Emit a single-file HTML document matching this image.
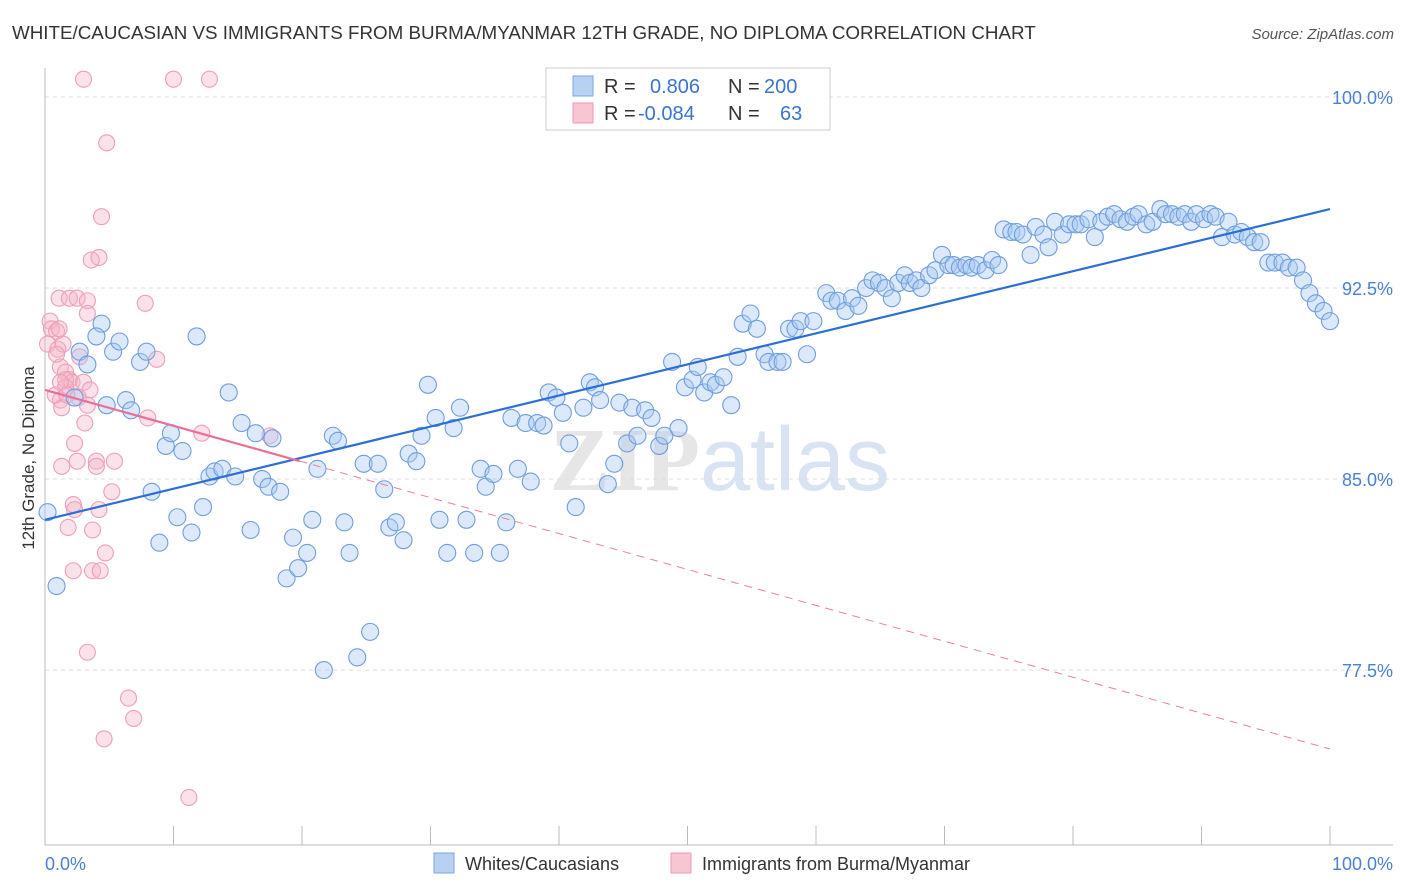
<!DOCTYPE html>
<html><head><meta charset="utf-8"><style>
body{margin:0;background:#fff;font-family:"Liberation Sans",sans-serif;}
svg{display:block}
</style></head><body>
<svg id="chart" width="1406" height="892" viewBox="0 0 1406 892" xmlns="http://www.w3.org/2000/svg">
<text x="12" y="39" font-size="18.8" fill="#333">WHITE/CAUCASIAN VS IMMIGRANTS FROM BURMA/MYANMAR 12TH GRADE, NO DIPLOMA CORRELATION CHART</text>
<text x="1394" y="39" font-size="15" fill="#555" text-anchor="end" font-style="italic">Source: ZipAtlas.com</text>
<text x="720" y="490" font-size="90" fill="#e6e6e6" text-anchor="middle" font-family="Liberation Serif,serif" font-weight="bold">ZIP<tspan fill="#d8e4f3" font-family="Liberation Sans,sans-serif" font-weight="normal">atlas</tspan></text>
<g id="grid"></g><g id="axes"></g><g id="pink"></g><g id="blue"></g><g id="lines"></g>
<text transform="translate(34,458) rotate(-90)" font-size="17" fill="#333" text-anchor="middle">12th Grade, No Diploma</text>
<text x="45" y="870" font-size="18" fill="#4a7fd4">0.0%</text>
<text x="1393" y="870" font-size="18" fill="#4a7fd4" text-anchor="end">100.0%</text>
<g>
<rect x="546" y="68" width="284" height="62" fill="#fff" stroke="#ccc"/>
<rect x="573" y="76" width="20" height="20" fill="#b8d1f3" stroke="#7aa4e0"/>
<rect x="573" y="103" width="20" height="20" fill="#f8c5d3" stroke="#eb9ab2"/>
<text x="604" y="93" font-size="20" fill="#333">R =</text><text x="650" y="93" font-size="20" fill="#3a74d0">0.806</text>
<text x="728" y="93" font-size="20" fill="#333">N =</text><text x="764" y="93" font-size="20" fill="#3a74d0">200</text>
<text x="604" y="120" font-size="20" fill="#333">R =</text><text x="638" y="120" font-size="20" fill="#3a74d0">-0.084</text>
<text x="728" y="120" font-size="20" fill="#333">N =</text><text x="780" y="120" font-size="20" fill="#3a74d0">63</text>
</g>
<g>
<rect x="434" y="853" width="20" height="20" fill="#b8d1f3" stroke="#7aa4e0"/>
<text x="465" y="870" font-size="18" fill="#333">Whites/Caucasians</text>
<rect x="671" y="853" width="20" height="20" fill="#f8c5d3" stroke="#eb9ab2"/>
<text x="702" y="870" font-size="18" fill="#333">Immigrants from Burma/Myanmar</text>
</g>
</svg>
<script>
const yTicks=[100,92.5,85,77.5];
const yTickLabels=["100.0%","92.5%","85.0%","77.5%"];
const xTicks=[0,10,20,30,40,50,60,70,80,90,100];
const blueX=[0.2,0.9,2.3,2.7,3.3,4.4,4.0,4.8,5.3,5.8,6.3,6.7,7.4,7.9,8.3,8.9,9.4,9.8,10.3,10.7,11.4,11.8,12.3,12.8,13.2,13.8,14.3,14.8,15.3,16.0,16.4,16.9,17.4,17.7,18.3,18.8,19.3,19.7,20.4,20.8,21.2,21.7,22.4,22.8,23.3,23.7,24.8,25.3,25.9,24.3,26.4,26.8,27.3,27.9,28.3,28.9,29.3,29.8,30.4,30.7,31.3,31.8,32.3,32.8,33.4,33.9,34.3,34.9,35.4,35.9,36.3,36.8,37.4,37.8,38.3,38.8,39.2,39.8,40.3,40.8,41.3,41.9,42.4,42.8,43.2,43.8,44.3,44.7,45.3,45.7,46.1,46.7,47.2,47.8,48.2,48.8,49.3,49.8,50.4,50.8,51.3,51.8,52.2,52.8,53.4,53.9,54.3,54.9,55.4,56.0,56.3,57.0,57.4,57.9,58.4,58.8,59.3,59.8,60.8,61.2,61.7,62.3,62.8,63.3,63.9,64.4,64.9,65.4,65.9,66.4,66.9,67.3,67.8,68.2,68.8,69.3,69.8,70.3,70.7,71.2,71.7,72.1,72.6,73.2,73.7,74.2,74.6,75.2,75.6,76.1,76.7,77.1,77.7,78.1,78.6,79.2,79.7,80.2,80.6,81.2,81.7,82.2,82.7,83.2,83.7,84.2,84.7,85.1,85.7,86.2,86.8,87.2,87.7,88.2,88.7,89.2,89.6,90.2,90.7,91.1,91.6,92.1,92.6,93.1,93.6,94.1,94.6,95.2,95.7,96.3,96.8,97.4,97.9,98.4,98.9,99.5,100];
const blueY=[83.7,80.8,88.2,90.0,89.5,91.1,90.6,87.9,90.0,90.4,88.1,87.7,89.6,90.0,84.5,82.5,86.3,86.8,83.5,86.1,82.9,90.6,83.9,85.1,85.3,85.4,88.4,85.1,87.2,83.0,86.8,85.0,84.7,86.6,84.5,81.1,82.7,81.5,82.1,83.4,85.4,77.5,86.7,86.5,83.3,82.1,85.6,79.0,85.6,78.0,84.6,83.1,83.3,82.6,86.0,85.7,86.7,88.7,87.4,83.4,82.1,87.0,87.8,83.4,82.1,85.4,84.7,85.2,82.1,83.3,87.4,85.4,87.2,84.9,87.2,87.1,88.4,88.2,87.6,86.4,83.9,87.8,88.8,88.6,88.1,84.8,85.6,88.0,86.4,87.8,86.7,87.7,87.4,86.3,86.7,89.6,87.0,88.6,88.9,89.4,88.4,88.8,88.7,89.0,87.9,89.8,91.1,91.5,90.9,89.9,89.6,89.6,89.6,90.9,90.9,91.2,89.9,91.2,92.3,92.0,92.0,91.6,92.1,91.8,92.5,92.8,92.7,92.5,92.1,92.7,93.0,92.7,92.8,92.5,93.0,93.2,93.8,93.4,93.4,93.3,93.4,93.3,93.4,93.2,93.6,93.4,94.8,94.7,94.7,94.6,93.8,94.9,94.6,94.1,95.1,94.6,95.0,95.0,95.0,95.2,94.5,95.1,95.3,95.4,95.2,95.1,95.3,95.4,95.0,95.1,95.6,95.4,95.4,95.3,95.4,95.1,95.4,95.2,95.4,95.3,94.5,95.1,94.6,94.7,94.5,94.3,94.3,93.5,93.5,93.5,93.3,93.3,92.8,92.3,91.9,91.6,91.2];
const pinkX=[3.0,10.0,12.8,4.8,4.4,3.6,4.2,1.1,1.9,2.5,3.3,7.8,3.3,0.4,0.5,0.9,1.1,0.2,1.0,2.7,8.7,1.2,1.6,1.9,2.1,3.0,1.6,3.5,1.2,1.3,2.6,1.6,3.3,8.0,3.1,12.2,17.5,2.3,1.3,2.5,4.0,4.0,5.4,5.2,2.2,2.3,4.2,1.8,3.7,4.7,2.2,3.7,4.3,3.3,6.5,6.9,4.6,11.2,1.2,0.8,1.4,1.7,0.9];
const pinkY=[100.7,100.7,100.7,98.2,95.3,93.6,93.7,92.1,92.1,92.1,92.0,91.9,91.5,91.2,90.9,90.8,90.9,90.3,90.1,89.8,89.7,89.4,89.2,88.9,88.8,88.8,88.6,88.5,88.1,87.8,88.2,88.9,87.9,87.4,87.2,86.8,86.7,86.4,85.5,85.7,85.7,85.5,85.7,84.5,84.0,83.8,83.8,83.1,83.0,82.1,81.4,81.4,81.4,78.2,76.4,75.6,74.8,72.5,88.8,88.3,90.3,88.3,89.9];
const blueFit=[83.4,95.6];
const pinkFit=[88.5,74.4];
const pinkSolidEnd=19.8;
const NS="http://www.w3.org/2000/svg";
const X=v=>45+v*12.85, Y=v=>97+(100-v)*25.47;
function mk(t,a,p){const e=document.createElementNS(NS,t);for(const k in a)e.setAttribute(k,a[k]);document.getElementById(p).appendChild(e);return e;}
yTicks.forEach((t,i)=>{
 const g=mk('line',{x1:45,x2:1393,y1:Y(t),y2:Y(t),stroke:'#ddd','stroke-dasharray':'4,4'},'grid');
 
 
 const l=mk('text',{x:1393,y:Y(t)+7,'font-size':18,fill:'#4a7fd4','text-anchor':'end'},'grid');
 l.textContent=yTickLabels[i];
 
 
});
const ax=mk('line',{x1:45,x2:45,y1:68,y2:845,stroke:'#bbb'},'axes');


const bx=mk('line',{x1:45,x2:1393,y1:845,y2:845,stroke:'#bbb'},'axes');


xTicks.forEach(t=>{const e=mk('line',{x1:X(t),x2:X(t),y1:826,y2:845,stroke:'#bbb'},'axes');
 
 });
pinkX.forEach((x,i)=>{const c=mk('circle',{cx:X(x),cy:Y(pinkY[i]),r:8,fill:'rgba(245,180,200,0.4)',stroke:'#ee9fb7','stroke-width':1.1},'pink');
 
 });
blueX.forEach((x,i)=>{const c=mk('circle',{cx:X(x),cy:Y(blueY[i]),r:8.5,fill:'rgba(168,200,242,0.4)',stroke:'#6f9ede','stroke-width':1.1},'blue');
 
 });
const bl=mk('line',{x1:X(0),y1:Y(blueFit[0]),x2:X(100),y2:Y(blueFit[1]),stroke:'#2b6fd6','stroke-width':2.2},'lines');


const py=v=>pinkFit[0]+(pinkFit[1]-pinkFit[0])*v/100;
const pd=mk('line',{x1:X(pinkSolidEnd),y1:Y(py(pinkSolidEnd)),x2:X(100),y2:Y(pinkFit[1]),stroke:'#e8809f','stroke-width':1,'stroke-dasharray':'8,6'},'lines');


const ps=mk('line',{x1:X(0),y1:Y(pinkFit[0]),x2:X(pinkSolidEnd),y2:Y(py(pinkSolidEnd)),stroke:'#e8709a','stroke-width':2.2},'lines');


</script>
</body></html>
